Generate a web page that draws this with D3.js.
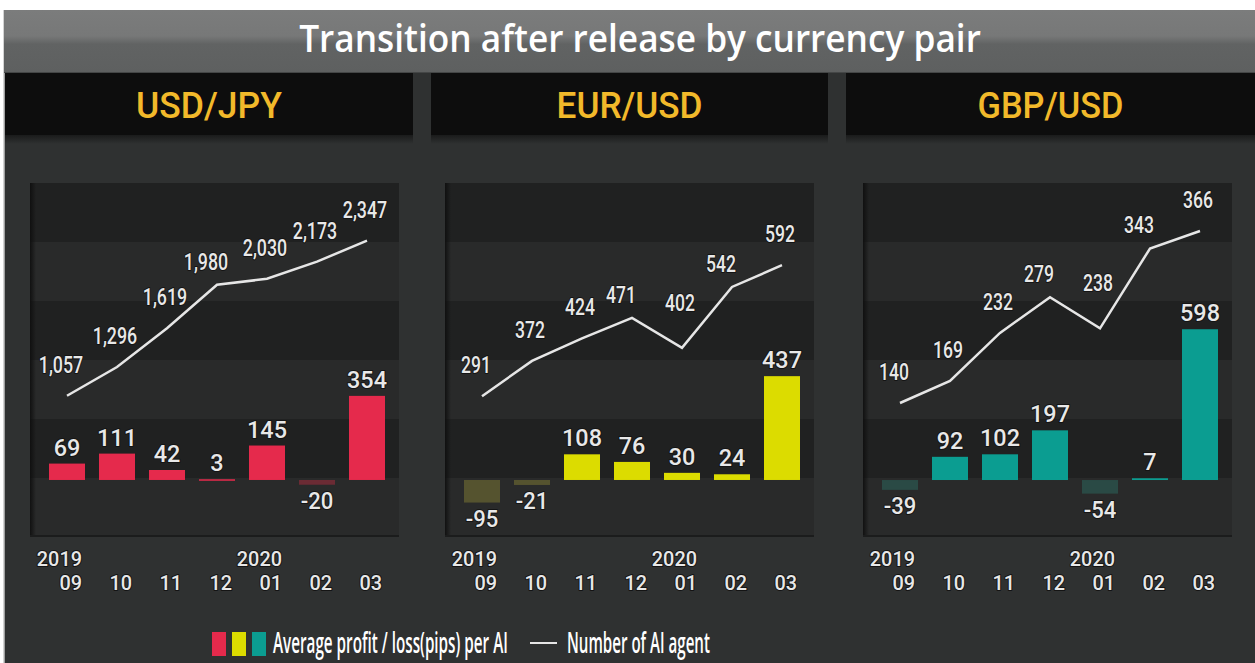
<!DOCTYPE html>
<html>
<head>
<meta charset="utf-8">
<script src="https://cdn.jsdelivr.net/npm/d3@7"></script>
<style>
    body { margin: 0; background: #ffffff; }
    svg { display: block; }
    .txt { fill: #e8e8e8; paint-order: stroke; stroke: #141414; stroke-width: 2px; stroke-linejoin: round; }
    .lbl-bar { font-family: Roboto, "DejaVu Sans Condensed", sans-serif; font-size: 24px; font-weight: 500; }
    .lbl-line { font-family: Roboto, "DejaVu Sans Condensed", sans-serif; font-size: 24px; font-weight: 500; }
    .lbl-axis { font-family: Roboto, "DejaVu Sans Condensed", sans-serif; font-size: 20px; font-weight: 500; }
</style>
</head>
<body>
<svg width="1255" height="663"></svg>
<script>
(function () {
    //Chart texts
    var title = "Transition after release by currency pair";
    var pairs = ["USD/JPY", "EUR/USD", "GBP/USD"];
    var months = ["09", "10", "11", "12", "01", "02", "03"];
    var years = ["2019", "", "", "", "2020", "", ""];
    var legendProfit = "Average profit / loss(pips) per AI";
    var legendAgents = "Number of AI agent";

    //Average profit / loss (pips) per AI
    var profitUsdJpy = [69, 111, 42, 3, 145, -20, 354];
    var profitEurUsd = [-95, -21, 108, 76, 30, 24, 437];
    var profitGbpUsd = [-39, 92, 102, 197, -54, 7, 598];

    //Number of AI agents
    var agentsUsdJpy = [1057, 1296, 1619, 1980, 2030, 2173, 2347];
    var agentsEurUsd = [291, 372, 424, 471, 402, 542, 592];
    var agentsGbpUsd = [140, 169, 232, 279, 238, 343, 366];

    //Colours (positive / negative bars)
    var barColors = ["#e52a4c", "#dcdc00", "#0b9d91"];
    var barColorsNeg = ["#6b2b34", "#55532f", "#2a4a45"];

    //Panels built from the arrays above
    var panels = [
        {name: pairs[0], profit: profitUsdJpy, agents: agentsUsdJpy, pos: barColors[0], neg: barColorsNeg[0],
            barDomain: [-240, 1250], lineDomain: [15, 2827]},
        {name: pairs[1], profit: profitEurUsd, agents: agentsEurUsd, pos: barColors[1], neg: barColorsNeg[1],
            barDomain: [-240, 1250], lineDomain: [4, 781]},
        {name: pairs[2], profit: profitGbpUsd, agents: agentsGbpUsd, pos: barColors[2], neg: barColorsNeg[2],
            barDomain: [-226, 1178], lineDomain: [-15, 429]}
    ];

    //Layout
    var svg = d3.select("svg");
    var W = 1255, H = 663;
    var headerX = [5, 431, 846], headerW = [408, 397, 409];
    var plotX = [30, 445, 863], plotW = 369, plotTop = 183, plotBottom = 537;

    //Squeeze a text horizontally to a given width (the original uses condensed faces)
    function fitWidth(sel, width) {
        sel.each(function (d, i) {
            var t = d3.select(this);
            var w = this.getComputedTextLength();
            if (!w) return;
            var target = typeof width === "function" ? width(d, i) : width;
            var x = +t.attr("x"), y = +t.attr("y");
            t.attr("x", 0).attr("y", 0)
                    .attr("transform", "translate(" + x + "," + y + ") scale(" + (target / w) + ",1)");
        });
    }
    //Width of a number label: per digit, plus narrower commas and minus signs
    function numWidth(s, digit) {
        var narrow = (s.match(/[,\-]/g) || []).length;
        return (s.length - narrow) * digit + narrow * digit * 0.45;
    }

    var defs = svg.append("defs");
    var gTitle = defs.append("linearGradient").attr("id", "gTitle").attr("x1", 0).attr("x2", 0).attr("y1", 0).attr("y2", 1);
    gTitle.append("stop").attr("offset", "0%").attr("stop-color", "#7b7c7c");
    gTitle.append("stop").attr("offset", "42%").attr("stop-color", "#777878");
    gTitle.append("stop").attr("offset", "55%").attr("stop-color", "#616363");
    gTitle.append("stop").attr("offset", "100%").attr("stop-color", "#5e6060");
    var gShadowL = defs.append("linearGradient").attr("id", "gShadowL");
    gShadowL.append("stop").attr("offset", "0%").attr("stop-color", "#0e0e0e").attr("stop-opacity", 0.9);
    gShadowL.append("stop").attr("offset", "100%").attr("stop-color", "#0e0e0e").attr("stop-opacity", 0);
    var gShadowH = defs.append("linearGradient").attr("id", "gShadowH").attr("x1", 0).attr("x2", 0).attr("y1", 0).attr("y2", 1);
    gShadowH.append("stop").attr("offset", "0%").attr("stop-color", "#1a1b1b");
    gShadowH.append("stop").attr("offset", "100%").attr("stop-color", "#2f3131");

    //Frame and title bar
    svg.append("rect").attr("x", 4).attr("y", 10).attr("width", W - 4).attr("height", H - 10).attr("fill", "#2f3131");
    svg.append("line").attr("x1", 4).attr("x2", 4).attr("y1", 10).attr("y2", H)
            .attr("stroke", "#c4c4c4").attr("stroke-width", 1.5);
    svg.append("rect").attr("x", 4).attr("y", 10).attr("width", W - 4).attr("height", 62).attr("fill", "url(#gTitle)");
    svg.append("line").attr("x1", 4).attr("x2", W).attr("y1", 72.5).attr("y2", 72.5).attr("stroke", "#444646");
    svg.append("text")
            .attr("x", 640).attr("y", 52)
            .attr("text-anchor", "middle")
            .style("font-family", "'Open Sans', 'Noto Sans', sans-serif")
            .style("font-weight", 600).style("font-size", "37px")
            .style("fill", "#ffffff")
            .text(title)
            .call(fitWidth, 682);

    var xBand = d3.scaleBand().domain(d3.range(months.length)).paddingInner(0.28).paddingOuter(0.14);
    var fmt = d3.format(",");

    panels.forEach(function (p, i) {
        var g = svg.append("g");
        //Header
        g.append("rect").attr("x", headerX[i]).attr("y", 135).attr("width", headerW[i]).attr("height", 9).attr("fill", "url(#gShadowH)");
        g.append("rect").attr("x", headerX[i]).attr("y", 73).attr("width", headerW[i]).attr("height", 62).attr("fill", "#0d0d0d");
        g.append("text")
                .attr("x", headerX[i] + headerW[i] / 2).attr("y", 118)
                .attr("text-anchor", "middle")
                .style("font-family", "Roboto, 'DejaVu Sans Condensed', sans-serif")
                .style("font-size", "37px").style("font-weight", 500).style("fill", "#f2b92a")
                .text(p.name)
                .call(fitWidth, 146);

        //Scales
        var x = xBand.copy().range([plotX[i] + 12, plotX[i] + 362]);
        var cx = j => x(j) + x.bandwidth() / 2;
        var yBar = d3.scaleLinear().domain(p.barDomain).range([plotBottom, plotTop]);
        var yLine = d3.scaleLinear().domain(p.lineDomain).range([521, plotTop]);
        var bands = d3.scaleBand().domain(d3.range(6)).range([plotTop, plotBottom]);

        //Plot background bands
        g.selectAll(".band").data(bands.domain()).enter().append("rect")
                .attr("x", plotX[i]).attr("width", plotW)
                .attr("y", d => bands(d)).attr("height", bands.bandwidth())
                .attr("fill", d => d % 2 === 0 ? "#202121" : "#292a2a");
        g.append("rect").attr("x", plotX[i]).attr("y", plotTop).attr("width", 6).attr("height", plotBottom - plotTop).attr("fill", "url(#gShadowL)");
        g.append("rect").attr("x", plotX[i]).attr("y", plotBottom - 2).attr("width", plotW).attr("height", 2).attr("fill", "#1b1c1c");

        //Bars
        g.selectAll(".bar").data(p.profit).enter().append("rect")
                .attr("x", (d, j) => x(j)).attr("width", x.bandwidth())
                .attr("y", d => yBar(Math.max(0, d)))
                .attr("height", d => Math.max(1.5, Math.abs(yBar(d) - yBar(0))))
                .attr("fill", d => d < 0 ? p.neg : p.pos);

        g.selectAll(".lbl-bar").data(p.profit).enter().append("text")
                .attr("class", "txt lbl-bar")
                .attr("text-anchor", "middle")
                .attr("x", (d, j) => cx(j))
                .attr("y", d => d < 0 ? yBar(d) + 24 : yBar(d) - 8)
                .text(d => d < 0 ? "-" + Math.abs(d) : String(d))
                .call(fitWidth, d => numWidth(d < 0 ? "-" + Math.abs(d) : String(d), 13.3));

        //Line of agents
        g.append("path").datum(p.agents)
                .attr("fill", "none").attr("stroke", "#e6e6e6").attr("stroke-width", 2.5)
                .attr("d", d3.line().x((d, j) => cx(j)).y(d => yLine(d)));

        //How far a point sits above (<0) or below (>0) its neighbours' mean
        function bendOf(arr, j) {
            if (j === 0 || j === arr.length - 1) return 0;
            return yLine(arr[j]) - (yLine(arr[j - 1]) + yLine(arr[j + 1])) / 2;
        }

        //Line labels: closer above peaks, higher above dips
        g.selectAll(".lbl-line").data(p.agents).enter().append("text")
                .attr("class", "txt lbl-line")
                .attr("text-anchor", "middle")
                .attr("x", function (d, j) {
                    var bend = bendOf(p.agents, j);
                    return cx(j) - (j === 0 ? 6 : bend < -10 ? 11 : 2);
                })
                .attr("y", function (d, j) {
                    var bend = bendOf(p.agents, j);
                    return yLine(d) - (bend < -10 ? 15 : bend > 20 ? 37 : 23);
                })
                .text(d => fmt(d))
                .call(fitWidth, d => numWidth(fmt(d), 10));

        //Axis labels: one text per month, the year (if any) on a line above, right aligned
        var ticks = g.selectAll(".lbl-axis").data(months).enter().append("text")
                .attr("class", "txt lbl-axis")
                .attr("text-anchor", "end");
        ticks.append("tspan").attr("x", 0).attr("y", -24).text((d, j) => years[j]);
        ticks.append("tspan").attr("class", "month").attr("x", 0).attr("y", 0).text(d => d);
        ticks.each(function (d, j) {
            var w = d3.select(this).select(".month").node().getComputedTextLength();
            var s = numWidth(d, 11.3) / w;
            d3.select(this).attr("transform", "translate(" + (cx(j) + 15) + ",590) scale(" + s + ",1)");
        });
    });

    //Legend
    var legend = svg.append("g");
    legend.selectAll("rect").data(barColors).enter().append("rect")
            .attr("x", (d, i) => 212 + i * 20).attr("y", 632)
            .attr("width", 14).attr("height", 24)
            .attr("fill", d => d);
    legend.append("text")
            .attr("x", 273).attr("y", 653)
            .style("font-family", "'Open Sans', sans-serif").style("font-weight", 600)
            .style("font-size", "29px").style("fill", "#ffffff")
            .text(legendProfit)
            .call(fitWidth, 235);
    legend.append("line").attr("x1", 530).attr("x2", 557).attr("y1", 643).attr("y2", 643)
            .attr("stroke", "#e6e6e6").attr("stroke-width", 2);
    legend.append("text")
            .attr("x", 567).attr("y", 653)
            .style("font-family", "'Open Sans', sans-serif").style("font-weight", 600)
            .style("font-size", "29px").style("fill", "#ffffff")
            .text(legendAgents)
            .call(fitWidth, 143);
})();
</script>
</body>
</html>
